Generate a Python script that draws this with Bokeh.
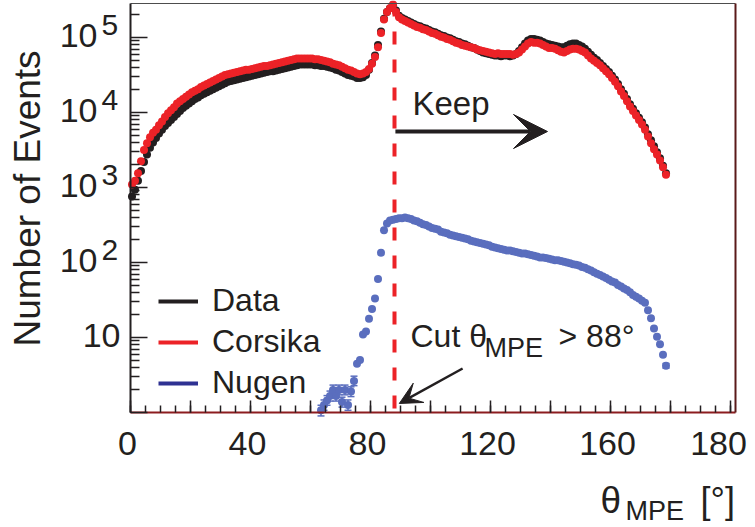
import numpy as np
from bokeh.plotting import figure
from bokeh.models import (Range1d, FixedTicker, Arrow, VeeHead, Label,
                          Legend, LegendItem, LinearAxis, LogAxis, Whisker,
                          TeeHead, ColumnDataSource)
from bokeh.embed import file_html
from bokeh.resources import INLINE

# ---------------- data (1 degree bins) ----------------
theta = np.arange(0.5, 179.0, 1.0)          # bin centres 0.5 ... 178.5

data_counts = [
    759, 933, 1230, 1660, 2190, 2750, 3390, 3980, 4570, 5250,
    5890, 6610, 7240, 7940, 8710, 9550, 10470, 11480, 12300, 13180,
    14130, 15140, 15850, 16980, 17780, 18620, 19500, 20420, 21380, 22390,
    23440, 24550, 25700, 26300, 26920, 27540, 28180, 28840, 29510, 30200,
    30900, 31620, 32360, 33110, 33880, 34670, 35480, 35480, 36310, 37150,
    38020, 38900, 39810, 40740, 41690, 42660, 43650, 43650, 43650, 43650,
    43650, 42660, 42660, 41690, 41690, 40740, 39810, 38900, 37150, 36310,
    34670, 33110, 31620, 30900, 30200, 28840, 28840, 29510, 31620, 37150,
    45710, 57540, 79430, 120200, 177800, 218800, 245500, 269200, 229100, 195000,
    182000, 173800, 166000, 158500, 151400, 144500, 141300, 134900, 131800, 125900,
    120200, 117500, 112200, 107200, 104700, 100000, 97720, 93330, 89130, 87100,
    83180, 81280, 77620, 74130, 72440, 69180, 66070, 63100, 61660, 60260,
    58880, 57540, 57540, 56230, 57540, 57540, 56230, 57540, 60260, 66070,
    74130, 83180, 91200, 95500, 95500, 93330, 91200, 87100, 83180, 81280,
    79430, 77620, 75860, 74130, 74130, 77620, 81280, 83180, 83180, 79430,
    75860, 70790, 64570, 58880, 53700, 50120, 45710, 41690, 38020, 34670,
    30900, 27540, 23990, 20420, 17780, 15140, 12880, 11220, 9770, 8510,
    7410, 6310, 5130, 4270, 3550, 2950, 2450, 1950, 1550]

corsika_counts = [
    1100, 1230, 1550, 2240, 3160, 3890, 4680, 5370, 5890, 6760,
    7590, 8710, 9770, 10700, 11750, 13180, 14130, 15140, 16220, 17380,
    18620, 19500, 20420, 21880, 22910, 23990, 25120, 26300, 27540, 28840,
    30200, 31620, 32360, 33110, 33880, 34670, 35480, 36310, 37150, 37150,
    38020, 38900, 39810, 40740, 41690, 41690, 42660, 43650, 44670, 45710,
    46770, 47860, 48980, 50120, 51290, 52480, 52480, 52480, 52480, 52480,
    52480, 51290, 51290, 50120, 48980, 47860, 46770, 44670, 43650, 42660,
    40740, 38900, 37150, 36310, 34670, 33110, 32360, 33110, 34670, 38020,
    44670, 54950, 74130, 114800, 173800, 218800, 245500, 275400, 218800, 186200,
    173800, 166000, 158500, 151400, 144500, 138000, 134900, 128800, 125900, 120200,
    114800, 112200, 107200, 102300, 100000, 95500, 93330, 89130, 85110, 83180,
    79430, 77620, 75860, 74130, 72440, 69180, 67610, 66070, 64570, 63100,
    61660, 60260, 61660, 60260, 60260, 60260, 60260, 58880, 60260, 63100,
    69180, 75860, 83180, 87100, 85110, 85110, 83180, 79430, 75860, 72440,
    72440, 70790, 67610, 64570, 63100, 66070, 69180, 70790, 70790, 69180,
    66070, 63100, 57540, 52480, 48980, 45710, 42660, 38900, 35480, 32360,
    28840, 25700, 22390, 19050, 16600, 14130, 12020, 10470, 9120, 7940,
    6920, 5890, 4790, 3890, 3240, 2750, 2290, 1860, 1480]

theta_nugen = np.arange(63.5, 179.0, 1.0)   # 63.5 ... 178.5
nugen_counts = [
    1.07, 1.26, 1.45, 1.66, 2.0, 1.66, 2.0, 1.38, 2.0, 1.26,
    1.9, 2.63, 4.47, 5.0, 11.0, 12.0, 17.8, 24.0, 33.1, 60.3,
    135, 269, 331, 363, 372, 380, 389, 389, 398, 389,
    380, 363, 355, 339, 324, 316, 302, 288, 282, 275,
    257, 251, 245, 234, 229, 224, 219, 214, 209, 204,
    195, 191, 186, 182, 178, 174, 170, 162, 158, 155,
    151, 148, 145, 145, 141, 138, 135, 132, 132, 129,
    126, 123, 120, 117, 117, 115, 112, 110, 107, 107,
    105, 102, 100, 98, 95, 93, 91, 87, 85, 81,
    78, 74, 71, 68, 65, 62, 59, 56, 54, 50,
    48, 45, 43, 40, 37, 35, 33, 31, 29, 23,
    18, 13.2, 10.2, 8.1, 5.9, 4.2]

# visible Nugen error bars (low-statistics bins)
nugen_err_x = [63.5, 64.5, 65.5, 66.5, 67.5, 68.5, 69.5, 70.5, 71.5, 72.5,
               73.5, 74.5, 178.5]
nugen_err_lo = [0.9, 1.07, 1.25, 1.42, 1.72, 1.42, 1.72, 1.18, 1.72, 1.07,
                1.63, 2.28, 3.9]
nugen_err_hi = [1.25, 1.47, 1.68, 1.93, 2.32, 1.93, 2.32, 1.6, 2.32, 1.47,
                2.2, 3.05, 4.5]

series_names = ["Data", "Corsika", "Nugen"]
cut_value = 88
keep_arrow = (88.3, 139.0, 5580)        # x_start, x_end, y
cut_arrow = (110.7, 3.86, 89.6, 1.32)   # x0, y0, x1, y1

x_bounds = (0, 201.7)
y_bounds = (1, 2.84e5)
x_major = list(range(0, 201, 20))
x_labels = {0: "0", 40: "40", 80: "80", 120: "120", 160: "160", 200: "180"}
y_major = [1, 10, 100, 1000, 10000, 100000]
y_exp = {10: "", 100: "2", 1000: "3", 10000: "4", 100000: "5"}

FONT = "Liberation Sans"
INK = "#231f20"
C_DATA = "#231f20"
C_CORS = "#ec2227"
C_NUGEN = "#5a6ebe"
C_NUGEN_LEG = "#2e3192"

W, H = 755, 527
# ---------------- figure: frame fills the canvas, axes sit at fixed data locations
p = figure(width=W, height=H,
           x_range=Range1d(-130 / 3, (W - 130) / 3),
           y_range=Range1d(10 ** (-(H - 412) / 75), 10 ** (412 / 75)),
           y_axis_type="log", x_axis_location=None, y_axis_location=None,
           output_backend="svg", toolbar_location=None, min_border=0)
p.grid.visible = False
p.outline_line_color = None
p.background_fill_color = "white"
p.border_fill_color = "white"


def style_ticks(ax, tin, minor_in):
    ax.major_tick_in = tin
    ax.major_tick_out = 0
    ax.minor_tick_in = minor_in
    ax.minor_tick_out = 0
    ax.major_tick_line_color = INK
    ax.minor_tick_line_color = INK
    ax.major_tick_line_width = 1.5
    ax.minor_tick_line_width = 1.5


# bottom axis
xax = LinearAxis(fixed_location=y_bounds[0], bounds=x_bounds,
                 ticker=FixedTicker(ticks=x_major, minor_ticks=list(range(0, 201, 5))),
                 major_label_overrides={t: "" for t in x_major},
                 axis_line_color="#8c1c1f", axis_line_width=2)
style_ticks(xax, 12, 7)
p.add_layout(xax, "below")

# left axis
y_minor = [m * 10 ** k for k in range(0, 6) for m in range(2, 10) if m * 10 ** k < y_bounds[1]]
yax = LogAxis(fixed_location=x_bounds[0], bounds=y_bounds,
              ticker=FixedTicker(ticks=y_major, minor_ticks=y_minor),
              major_label_overrides={t: "" for t in y_major},
              axis_line_color=INK, axis_line_width=2)
style_ticks(yax, 17, 9)
p.add_layout(yax, "left")

# top and right frame edges (axes without ticks)
tax = LinearAxis(fixed_location=y_bounds[1], bounds=x_bounds,
                 ticker=FixedTicker(ticks=[]), axis_line_color="#4d4d4d",
                 axis_line_width=1.2, major_tick_line_color=None,
                 minor_tick_line_color=None)
p.add_layout(tax, "above")
rax = LogAxis(fixed_location=x_bounds[1], bounds=y_bounds,
              ticker=FixedTicker(ticks=[]), axis_line_color="#5a1a1a",
              axis_line_width=2, major_tick_line_color=None,
              minor_tick_line_color=None)
p.add_layout(rax, "right")

# ---------------- data points ----------------
p.scatter(theta, data_counts, size=8, color=C_DATA, line_color=None)
p.scatter(theta, corsika_counts, size=8, color=C_CORS, line_color=None)

err_src = ColumnDataSource(dict(x=nugen_err_x, lo=nugen_err_lo, hi=nugen_err_hi))
p.add_layout(Whisker(source=err_src, base="x", lower="lo", upper="hi",
                     dimension="height", line_color=C_NUGEN, line_width=1.5,
                     lower_head=TeeHead(size=7, line_color=C_NUGEN, line_width=1.5),
                     upper_head=TeeHead(size=7, line_color=C_NUGEN, line_width=1.5)))
p.scatter(theta_nugen, nugen_counts, size=8, color=C_NUGEN, line_color=None)

# cut line
p.segment(x0=[cut_value], y0=[y_bounds[1]], x1=[cut_value], y1=[y_bounds[0]],
          line_color=C_CORS, line_width=4, line_dash="13 15")

# arrows
p.add_layout(Arrow(end=VeeHead(size=34, fill_color=INK, line_color=INK),
                   x_start=keep_arrow[0], y_start=keep_arrow[2],
                   x_end=keep_arrow[1], y_end=keep_arrow[2],
                   line_color=INK, line_width=4))
p.add_layout(Arrow(end=VeeHead(size=22, fill_color=INK, line_color=INK),
                   x_start=cut_arrow[0], y_start=cut_arrow[1],
                   x_end=cut_arrow[2], y_end=cut_arrow[3],
                   line_color=INK, line_width=2.5))

BASE_SHIFT = 0.35   # renderer places text ~0.35 em below the requested baseline


def lab(text, x, y, size, xu="screen", yu="screen", align="left",
        angle=0, yoff=0, xoff=0):
    if angle == 0:
        yoff = yoff + BASE_SHIFT * size
    else:
        xoff = xoff - BASE_SHIFT * size
    p.add_layout(Label(text=text, x=x, y=y, x_units=xu, y_units=yu,
                       text_font=FONT, text_font_size=f"{size}px",
                       text_color=INK, text_align=align,
                       text_baseline="alphabetic", angle=angle,
                       y_offset=yoff, x_offset=xoff))


def px(x):      # page pixel (from left) -> frame screen units
    return x


def py(y):      # page pixel (from top) -> frame screen units (from bottom)
    return H - y


# tick labels
for t, s in x_labels.items():
    lab(s, t, py(455), 34, xu="data", align="center",
        xoff=(-12 if t == 200 else -3))
for t, e in y_exp.items():
    if e == "":
        lab("10", px(120), t, 34, yu="data", align="right", yoff=-10)
    else:
        lab("10", px(97), t, 34, yu="data", align="right", yoff=-10)
        lab(e, px(101), t, 30, yu="data", align="left", yoff=2)

# axis titles
lab("Number of Events", px(40), py(198), 37, align="center", angle=np.pi / 2)
lab("\u03b8", px(600), py(513), 37)
lab("MPE", px(625), py(520), 27)
lab("[\u00b0]", px(700), py(513), 36)

# annotations
lab("Keep", px(412), py(115), 33)
lab("Cut \u03b8", px(410), py(347), 32)
lab("MPE", px(484), py(357), 27)
lab("> 88\u00b0", px(558), py(347), 32)

# legend (line samples)
leg_colors = [C_DATA, C_CORS, C_NUGEN_LEG]
items = []
for name, c in zip(series_names, leg_colors):
    r = p.line(x=np.array([np.nan]), y=np.array([np.nan]), line_color=c, line_width=4)
    items.append(LegendItem(label=name, renderers=[r]))
legend = Legend(items=items, location=(px(158), py(412) + 11), orientation="vertical",
                glyph_width=40, glyph_height=20, label_standoff=14,
                spacing=4, padding=0, margin=0,
                label_text_font=FONT, label_text_font_size="32px",
                label_text_color=INK,
                border_line_alpha=0, background_fill_alpha=0)
p.add_layout(legend)

open("out.html", "w").write(file_html(p, INLINE))
